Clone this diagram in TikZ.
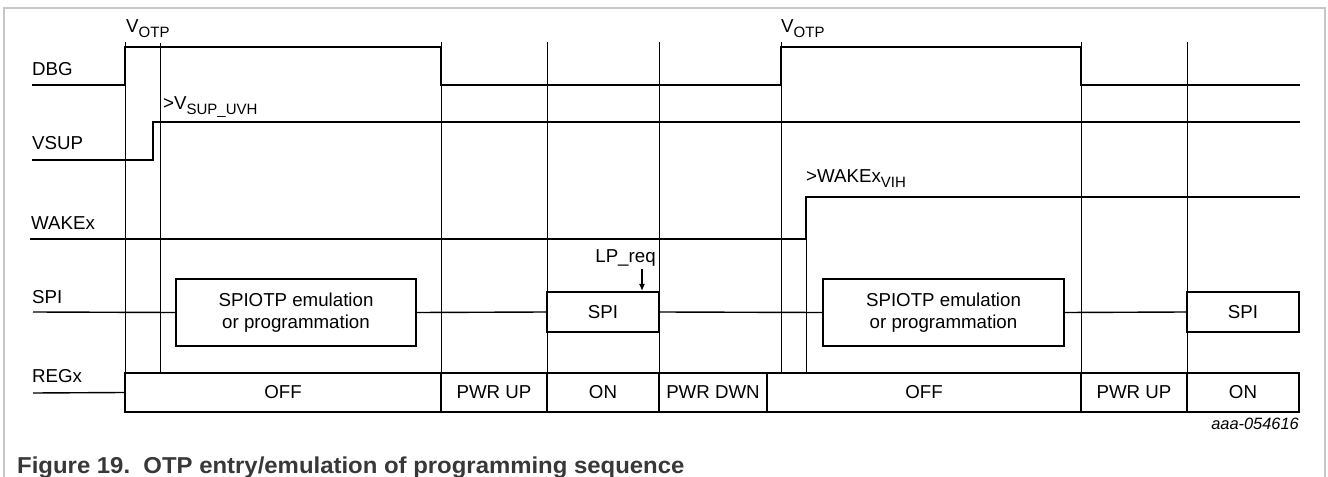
\documentclass[tikz,border=0pt]{standalone}
\usepackage{fontspec}
\setmainfont{Liberation Sans}
\usetikzlibrary{arrows.meta}
\newcommand{\lblfont}{\fontsize{18.7bp}{22bp}\selectfont}
\newcommand{\subfont}{\fontsize{15bp}{17bp}\selectfont}
\newcommand{\idfont}{\fontsize{16.4bp}{19bp}\selectfont\itshape}
\newcommand{\capfont}{\fontsize{23bp}{27bp}\selectfont\bfseries}
\newcommand{\sbs}[1]{\raisebox{-4.5bp}{\subfont #1}}
\begin{document}
\begin{tikzpicture}[x=1bp,y=-1bp,
  sig/.style={line width=2.3bp, line join=miter, line cap=rect},
  busline/.style={line width=1.4bp},
  thinv/.style={line width=0.9bp},
  box/.style={draw, line width=2.3bp, inner sep=0pt, align=center, font=\lblfont},
  lab/.style={anchor=base west, inner sep=0pt, font=\lblfont},
  frame/.style={draw=black!22, line width=1.5bp}
]
\useasboundingbox (0,0) rectangle (1328,477);
% frame
\coordinate (fbl) at (4,477);
\coordinate (ftl) at (4,8);
\coordinate (ftr) at (1325,8);
\coordinate (fbr) at (1325,477);
\draw[frame] (fbl) -- (ftl) -- (ftr) -- (fbr);

% thin vertical time markers
\foreach \x/\ya/\yb in {125/42/373, 160/43/372, 441/42/373, 547/42/373, 659/42/373, 781/42/373, 806/197/373, 1081/42/373, 1187/42/373}
  \draw[thinv] (\x,\ya) -- (\x,\yb);

% signal labels
\node[lab] (ldbg) at (32,76) {DBG};
\node[lab] (lvsup) at (32,150) {VSUP};
\node[lab] (lwake) at (31,230) {WAKEx};
\node[lab] (lspi) at (32,303) {SPI};
\node[lab] (lreg) at (32,382) {REGx};

% annotation labels
\node[lab] (votp1) at (126,33) {V\sbs{OTP}};
\node[lab] (votp2) at (781,33) {V\sbs{OTP}};
\node[lab] (vsuv) at (163,110) {>V\sbs{SUP\_UVH}};
\node[lab] (wvih) at (806,183) {>WAKEx\sbs{VIH}};

% DBG
\draw[sig] (33,85) -- (125,85) -- (125,47) -- (441,47) -- (441,85) -- (781,85) -- (781,47) -- (1081,47) -- (1081,85) -- (1299,85);
% VSUP
\draw[sig] (33,160) -- (153,160) -- (153,122) -- (1299,122);
% WAKEx
\draw[sig] (31,239) -- (806,239) -- (806,197) -- (1299,197);

% SPI
\node[box, minimum width=240bp, minimum height=67bp] (b1) at (296,312.5) {SPIOTP emulation\\or programmation};
\node[box, minimum width=112bp, minimum height=40bp] (b2) at (603,312) {SPI};
\node[box, minimum width=241bp, minimum height=67bp] (b3) at (943.5,312.5) {SPIOTP emulation\\or programmation};
\node[box, minimum width=112bp, minimum height=40bp] (b4) at (1243,312) {SPI};
\coordinate (spis) at (33,312);
\draw[busline] (spis) -- (b1.west);
\draw[busline] (b1.east) -- (b2.west);
\draw[busline] (b2.east) -- (b3.west);
\draw[busline] (b3.east) -- (b4.west);

% LP_req
\node[anchor=base, inner sep=0pt, font=\lblfont] (lp) at (625.5,263) {LP\_req};
\coordinate (lpa) at (642,269);
\draw[line width=1.1bp, -{Latex[length=7bp,width=6bp]}] (lpa) -- (lpa |- b2.north);

% REGx
\node[box, minimum width=316bp, minimum height=39bp] (r1) at (283,392.5) {OFF};
\node[box, minimum width=106bp, minimum height=39bp] (r2) at (494,392.5) {PWR UP};
\node[box, minimum width=112bp, minimum height=39bp] (r3) at (603,392.5) {ON};
\node[box, minimum width=108bp, minimum height=39bp] (r4) at (713,392.5) {PWR DWN};
\node[box, minimum width=314bp, minimum height=39bp] (r5) at (924,392.5) {OFF};
\node[box, minimum width=106bp, minimum height=39bp] (r6) at (1134,392.5) {PWR UP};
\node[box, minimum width=112bp, minimum height=39bp] (r7) at (1243,392.5) {ON};
\coordinate (regs) at (33,393);
\draw[busline] (regs) -- (r1.west);

% id and caption
\node[anchor=base east, inner sep=0pt, font=\idfont] (id) at (1299,429) {aaa-054616};
\node[anchor=base west, inner sep=0pt, font=\capfont, text=black!78] (cap) at (17,473) {\scalebox{1.04}[1]{Figure 19.\ \ OTP entry/emulation of programming sequence}};
\end{tikzpicture}
\end{document}
